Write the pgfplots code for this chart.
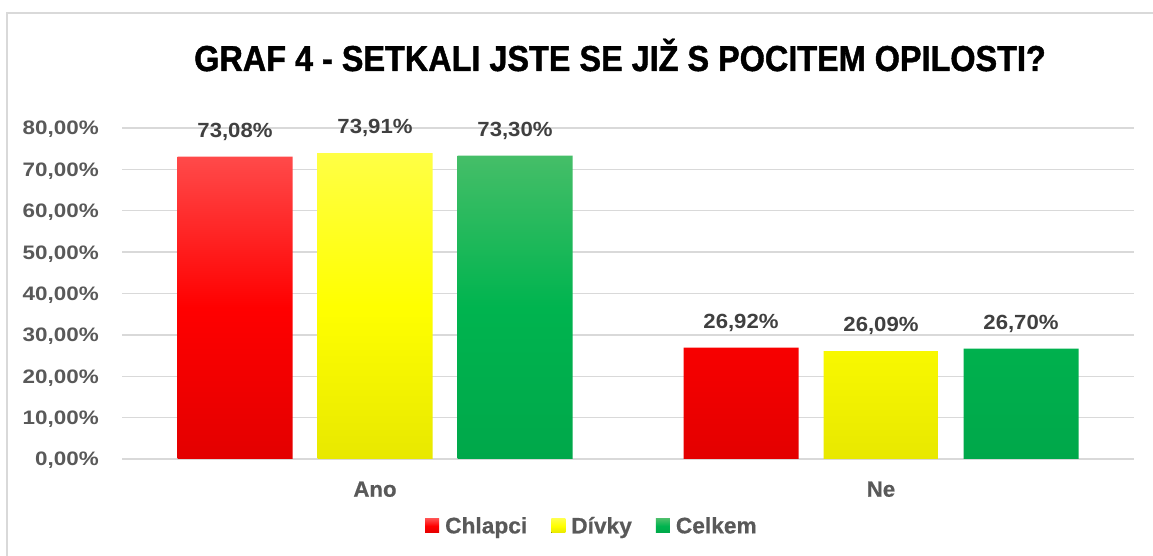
\documentclass[border=0pt]{standalone}
\usepackage{fontspec}
\setmainfont{Liberation Sans}
\newfontfamily\txtfont{Liberation Sans}[FakeStretch=1.01, FakeBold=0.6]
\newfontfamily\titlefont{Liberation Sans}[FakeStretch=0.9, FakeBold=1.2]
\newfontfamily\tickfont{Liberation Sans}[FakeStretch=1.15]
\newfontfamily\labfont{Liberation Sans}[FakeStretch=1.08]
\usepackage{pgfplots}
\pgfplotsset{compat=1.18}
\definecolor{gridgray}{HTML}{D9D9D9}
\definecolor{ticktext}{HTML}{595959}
\definecolor{labtext}{HTML}{404040}
\definecolor{redtop}{HTML}{FF4A4A}
\definecolor{redmid}{HTML}{FF0000}
\definecolor{redbot}{HTML}{E30000}
\definecolor{yeltop}{HTML}{FFFF45}
\definecolor{yelmid}{HTML}{FFFF00}
\definecolor{yelbot}{HTML}{E8E800}
\definecolor{grntop}{HTML}{45BE68}
\definecolor{grnmid}{HTML}{00B44F}
\definecolor{grnbot}{HTML}{00A84A}
\pgfplotsset{sq/.style={legend image code/.code={\fill[##1] (0pt,-7pt) rectangle (14pt,7pt); \path (0pt,0pt) -- (20pt,0pt);}}}
\begin{document}
\begin{tikzpicture}
\fill[white] (0,0) rectangle (1153pt,556pt);
\useasboundingbox (0,0) rectangle (1153pt,556pt);
\draw[gridgray, line width=2pt] (7pt,0) -- (7pt,543pt) -- (1153pt,543pt);
\node[anchor=base, inner sep=0pt, font=\titlefont\bfseries\fontsize{36pt}{40pt}\selectfont] at (620pt,485pt) {GRAF 4 - SETKALI JSTE SE JIŽ S POCITEM OPILOSTI?};
\begin{axis}[
  at={(122pt,97pt)}, anchor=south west,
  scale only axis, width=1012pt, height=331pt,
  xmin=-0.5, xmax=1.5, ymin=0, ymax=80,
  ybar=25pt, bar width=115pt,
  xtick={0,1}, xticklabels={Ano,Ne},
  ytick={0,10,20,30,40,50,60,70,80},
  ymajorgrids, major grid style={gridgray, line width=1.3pt},
  axis line style={draw=none},
  major tick length=0pt,
  /pgf/number format/assume math mode=true,
  yticklabel={\pgfmathprintnumber[fixed,fixed zerofill,precision=2,use comma]{\tick}\%},
  yticklabel style={anchor=base east, inner sep=0pt, xshift=-23pt, yshift=-7pt, font=\tickfont\bfseries\fontsize{19.5pt}{22pt}\selectfont, text=ticktext},
  xticklabel style={anchor=base, inner sep=0pt, yshift=-37.7pt, font=\txtfont\bfseries\fontsize{22pt}{24pt}\selectfont, text=ticktext},
  nodes near coords={\pgfmathprintnumber[fixed,fixed zerofill,precision=2,use comma]{\pgfplotspointmeta}\%},
  nodes near coords style={inner sep=0pt, text depth=0pt, yshift=19pt, font=\labfont\bfseries\fontsize{20.5pt}{22pt}\selectfont, text=labtext},
  legend columns=3,
  legend style={at={(0.4634,-0.2024)}, anchor=center, draw=none, fill=none, inner sep=0pt,
    font=\txtfont\bfseries\fontsize{22.5pt}{24pt}\selectfont, text=ticktext,
    nodes={inner sep=0pt},
    /tikz/every even column/.append style={column sep=24pt}},
]
\addplot[draw=none, top color=redtop, bottom color=redbot, middle color=redmid, sq] coordinates {(0,73.08) (1,26.92)};
\addplot[draw=none, top color=yeltop, bottom color=yelbot, middle color=yelmid, sq] coordinates {(0,73.91) (1,26.09)};
\addplot[draw=none, top color=grntop, bottom color=grnbot, middle color=grnmid, sq] coordinates {(0,73.30) (1,26.70)};
\legend{Chlapci,Dívky,Celkem}
\end{axis}
\end{tikzpicture}
\end{document}
